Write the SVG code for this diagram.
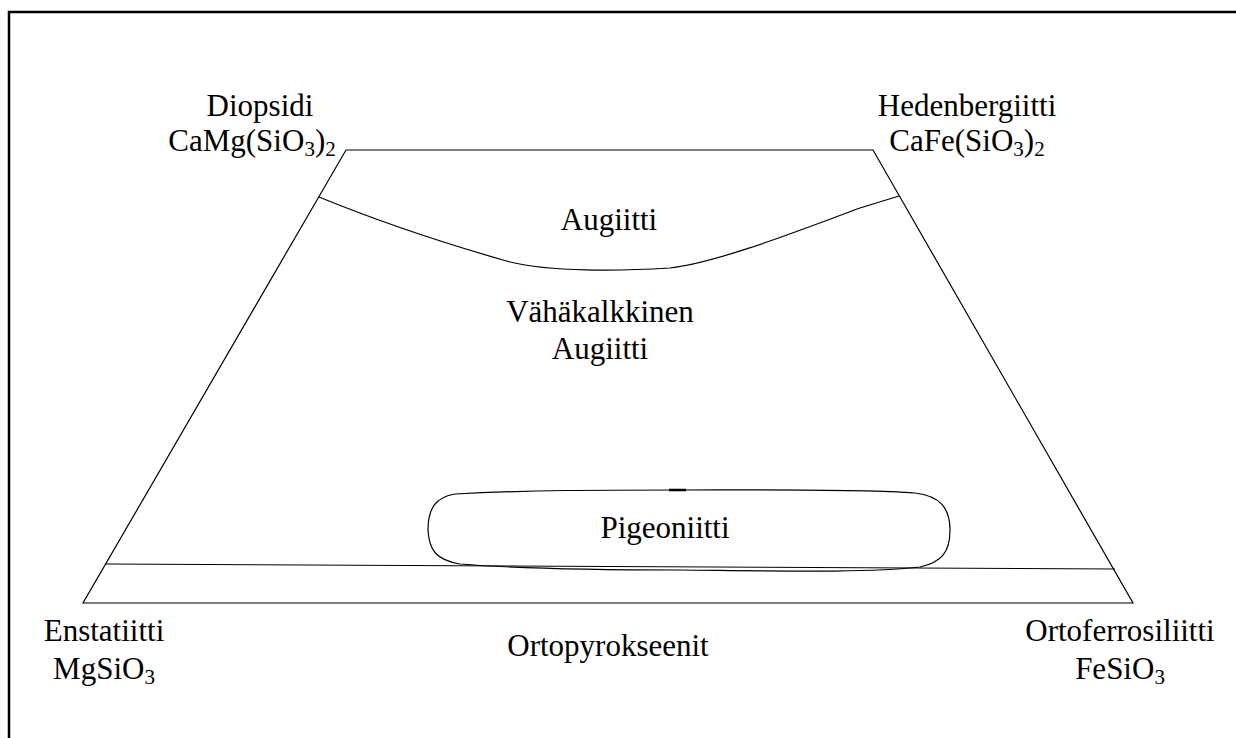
<svg xmlns="http://www.w3.org/2000/svg" width="1236" height="738" viewBox="0 0 1236 738">
<style>
text{font-family:'Liberation Serif','Times New Roman',serif;font-size:31px;fill:#000;text-anchor:middle}
.s{font-size:21px}
.ln{fill:none;stroke:#000;stroke-width:1.2}
</style>
<rect x="0" y="0" width="1236" height="738" fill="#fff"/>
<rect x="9" y="12" width="1240" height="740" fill="none" stroke="#000" stroke-width="2.5"/>
<g id="connectors">
<path class="ln" d="M346,150 L873,150 L1133,603 L83,603 Z"/>
<path class="ln" d="M106,564 L1115,569"/>
<path class="ln" d="M319,197 C380,222 450,245 510,262 C550,272 620,271 670,268 C720,262 800,230 860,208 L899,196"/>
</g>
<g id="pigeoniitti">
<path class="ln" d="M455,494 C530,490 600,490 680,490 C760,490 860,489 915,493 C940,496 950,508 950,530 C950,552 942,562 920,567 C870,573 780,571 680,570 C580,570 510,568 460,564 C436,560 429,550 428,530 C428,508 436,497 455,494 Z"/>
<path d="M669,490 L686,490" stroke="#000" stroke-width="2.5"/>
<text x="665" y="538">Pigeoniitti</text>
</g>
<g id="diopsidi">
<text x="260" y="116">Diopsidi</text>
<text x="252" y="151">CaMg(SiO<tspan class="s" dy="5">3</tspan><tspan dy="-5">)</tspan><tspan class="s" dy="5">2</tspan></text>
</g>
<g id="hedenbergiitti">
<text x="967" y="116">Hedenbergiitti</text>
<text x="967" y="151">CaFe(SiO<tspan class="s" dy="5">3</tspan><tspan dy="-5">)</tspan><tspan class="s" dy="5">2</tspan></text>
</g>
<g id="augiitti">
<text x="609" y="230">Augiitti</text>
</g>
<g id="vahakalkkinen">
<text x="600" y="322">Vähäkalkkinen</text>
<text x="600" y="359">Augiitti</text>
</g>
<g id="enstatiitti">
<text x="104" y="641">Enstatiitti</text>
<text x="104" y="679">MgSiO<tspan class="s" dy="5">3</tspan></text>
</g>
<g id="ortopyrokseenit">
<text x="608" y="656">Ortopyrokseenit</text>
</g>
<g id="ortoferrosiliitti">
<text x="1120" y="641">Ortoferrosiliitti</text>
<text x="1120" y="679">FeSiO<tspan class="s" dy="5">3</tspan></text>
</g>
</svg>
